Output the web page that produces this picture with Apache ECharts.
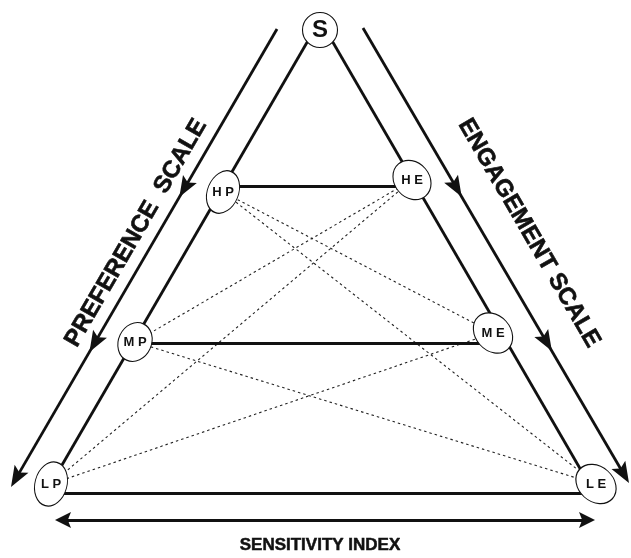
<!DOCTYPE html>
<html>
<head>
<meta charset="utf-8">
<script src="https://cdn.jsdelivr.net/npm/echarts@6/dist/echarts.min.js"></script>
<style>
  html, body { margin: 0; padding: 0; background: #fff; }
  #main { width: 631px; height: 558px; }
</style>
</head>
<body>
<div id="main"></div>
<script>
// nodes of the triangle (diagram units = pixels of the 631x558 canvas)
var nodeNames = ['S', 'HP', 'HE', 'MP', 'ME', 'LP', 'LE'];
var nodeLabels = ['S', 'H P', 'H E', 'M P', 'M E', 'L P', 'L E'];
var nodeX = [320, 223, 412, 135, 493, 51, 596];
var nodeY = [30, 192, 180, 342, 333, 484, 484];

// triangle sides
var apex = [320, 20];
var feet = [[51, 484], [589, 484]];

// solid links between the same level, drawn at these heights
var levelPairs = [['HP', 'HE'], ['MP', 'ME'], ['LP', 'LE']];
var levelY = [186, 343, 493];

// dotted links between different levels
var crossPairs = [['HP', 'ME'], ['HP', 'LE'], ['MP', 'HE'], ['MP', 'LE'], ['LP', 'HE'], ['LP', 'ME']];

// scale arrows: start, tip, and where the arrow heads sit (share of the length)
var scaleStarts = [[277, 29], [363, 28]];
var scaleTips = [[11, 487], [629, 483]];
var scaleHeads = [[0.367, 0.705, 1], [0.371, 0.71, 1]];

// sensitivity index double arrow
var indexEnds = [[55, 520], [595, 520]];

var titles = ['PREFERENCE  SCALE', 'ENGAGEMENT SCALE', 'SENSITIVITY INDEX'];

// shapes of the node ellipses
var nodeShape = {
  S: { size: [35, 35], rot: 0, font: 24 },
  HP: { size: [31, 44], rot: -22, font: 13 },
  MP: { size: [33, 40], rot: -25, font: 13 },
  LP: { size: [32, 45], rot: -15, font: 13 },
  HE: { size: [35, 42], rot: 40, font: 13 },
  ME: { size: [35, 44], rot: 42, font: 13 },
  LE: { size: [35, 44], rot: 48, font: 13 }
};

function pos(name) {
  var i = nodeNames.indexOf(name);
  return [nodeX[i], nodeY[i]];
}
function along(a, b, t) {
  return [a[0] + (b[0] - a[0]) * t, a[1] + (b[1] - a[1]) * t];
}

var solid = [];
feet.forEach(function (f) { solid.push({ coords: [apex, f] }); });
levelPairs.forEach(function (p, i) {
  solid.push({ coords: [[pos(p[0])[0], levelY[i]], [pos(p[1])[0], levelY[i]]] });
});
scaleStarts.forEach(function (s, i) {
  solid.push({ coords: [s, along(s, scaleTips[i], 0.985)] });
});
solid.push({ coords: [along(indexEnds[0], indexEnds[1], 0.02), along(indexEnds[0], indexEnds[1], 0.98)] });

var dotted = crossPairs.map(function (p) { return { coords: [pos(p[0]), pos(p[1])] }; });

// arrow heads: [tipX, tipY, fromX, fromY, kind]
var heads = [];
scaleStarts.forEach(function (s, i) {
  scaleHeads[i].forEach(function (t) {
    var p = along(s, scaleTips[i], t);
    heads.push([p[0], p[1], s[0], s[1], 0]);
  });
});
heads.push([indexEnds[0][0], indexEnds[0][1], indexEnds[1][0], indexEnds[1][1], 1]);
heads.push([indexEnds[1][0], indexEnds[1][1], indexEnds[0][0], indexEnds[0][1], 1]);

var nodeData = nodeNames.map(function (n, i) {
  var sh = nodeShape[n];
  return {
    value: [nodeX[i], nodeY[i]],
    symbolSize: sh.size,
    symbolRotate: sh.rot,
    label: { formatter: nodeLabels[i], fontSize: sh.font }
  };
});

var font = "'Liberation Sans', Arial, Helvetica, sans-serif";
var ang = Math.atan2(458, 266);
var ink = '#111';

var myChart = echarts.init(document.getElementById('main'));
myChart.setOption({
  animation: false,
  backgroundColor: '#fff',
  grid: { left: 0, right: 0, top: 0, bottom: 0 },
  xAxis: { type: 'value', min: 0, max: 631, show: false },
  yAxis: { type: 'value', min: 0, max: 558, inverse: true, show: false },
  graphic: [
    { type: 'text', x: 136, y: 233, rotation: ang, z: 10,
      style: { text: titles[0], font: 'bold 24px ' + font, fill: ink, stroke: ink, lineWidth: 0.6, align: 'center', verticalAlign: 'middle' } },
    { type: 'text', x: 529, y: 233, rotation: -ang, z: 10,
      style: { text: titles[1], font: 'bold 24px ' + font, fill: ink, stroke: ink, lineWidth: 0.6, align: 'center', verticalAlign: 'middle' } },
    { type: 'text', x: 320, y: 545, z: 10,
      style: { text: titles[2], font: 'bold 17px ' + font, fill: ink, stroke: ink, lineWidth: 0.5, align: 'center', verticalAlign: 'middle' } }
  ],
  series: [
    {
      type: 'lines', coordinateSystem: 'cartesian2d', z: 1,
      lineStyle: { color: '#222', width: 1.1, type: [2.5, 3], opacity: 1 },
      data: dotted
    },
    {
      type: 'lines', coordinateSystem: 'cartesian2d', z: 2,
      lineStyle: { color: ink, width: 2.8, opacity: 1 },
      data: solid
    },
    {
      type: 'custom', coordinateSystem: 'cartesian2d', z: 3,
      data: heads,
      renderItem: function (params, api) {
        var tip = api.coord([api.value(0), api.value(1)]);
        var from = api.coord([api.value(2), api.value(3)]);
        var big = api.value(4) === 0;
        var len = big ? 21 : 16, half = 8;
        var dx = tip[0] - from[0], dy = tip[1] - from[1];
        var d = Math.sqrt(dx * dx + dy * dy);
        var ux = dx / d, uy = dy / d, nx = -uy, ny = ux;
        var bx = tip[0] - ux * len, by = tip[1] - uy * len;
        var nxp = tip[0] - ux * len * 0.8, nyp = tip[1] - uy * len * 0.8;
        return {
          type: 'polygon',
          shape: { points: [tip, [bx + nx * half, by + ny * half], [nxp, nyp], [bx - nx * half, by - ny * half]] },
          style: { fill: ink }
        };
      }
    },
    {
      type: 'scatter', z: 5,
      symbol: 'circle',
      itemStyle: { color: '#fff', borderColor: ink, borderWidth: 1.1, opacity: 1 },
      label: { show: true, position: 'inside', color: ink, fontWeight: 'bold', fontFamily: font },
      emphasis: { disabled: true },
      data: nodeData
    }
  ]
});
</script>
</body>
</html>
